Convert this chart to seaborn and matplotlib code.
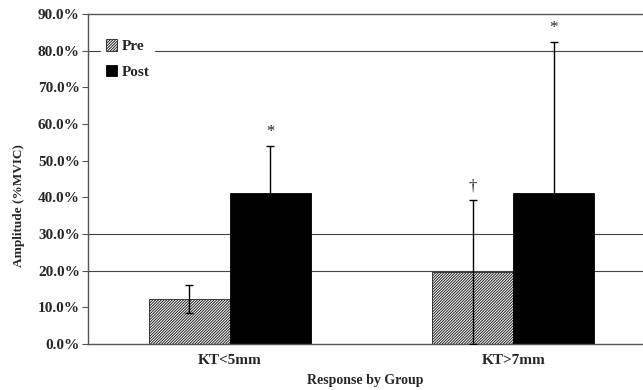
import matplotlib
matplotlib.use("Agg")
import matplotlib.pyplot as plt
import seaborn as sns
import pandas as pd
from matplotlib.ticker import FuncFormatter

# values (percent of MVIC)
groups = ["KT<5mm", "KT>7mm"]
phases = ["Pre", "Post"]
pre_mean = [12.3, 19.6]
post_mean = [41.2, 41.2]
pre_sd = [3.9, 19.6]
post_sd = [12.8, 41.2]
marks_pre = ["", "\u2020"]
marks_post = ["*", "*"]
y_ticks = [0, 10, 20, 30, 40, 50, 60, 70, 80, 90]
grid_at = [20, 30, 80]

df = pd.DataFrame({
    "group": groups * 2,
    "phase": ["Pre"] * 2 + ["Post"] * 2,
    "amp": pre_mean + post_mean,
})

sns.set_style("white")
plt.rcParams["font.family"] = ["Liberation Serif", "DejaVu Serif"]
plt.rcParams["font.weight"] = "bold"
plt.rcParams["hatch.linewidth"] = 0.7

fig = plt.figure(figsize=(6.43, 3.9), dpi=100)
ax = fig.add_axes([0.137, 0.118, 0.863, 0.846])

sns.barplot(data=df, x="group", y="amp", hue="phase", hue_order=phases,
            order=groups, errorbar=None, width=0.57, gap=0,
            palette=["white", "black"], edgecolor="black", linewidth=0.6,
            legend=False, ax=ax, zorder=2)

for p in ax.containers[0]:
    p.set_hatch("/" * 12)
    p.set_edgecolor("#222222")

# pre whiskers sit over the hatched bars, post whiskers behind the black bars
for cont, sd, marks, z in [(ax.containers[0], pre_sd, marks_pre, 3),
                           (ax.containers[1], post_sd, marks_post, 1.5)]:
    for p, s, m in zip(cont, sd, marks):
        cx = p.get_x() + p.get_width() / 2
        h = p.get_height()
        ax.errorbar(cx, h, yerr=s, fmt="none", ecolor="black",
                    elinewidth=1.0, capsize=3, capthick=1.0, zorder=z)
        if m:
            ax.annotate(m, (cx, h + s), xytext=(0, 4), textcoords="offset points",
                        ha="center", va="bottom", fontsize=12, fontweight="normal")

for g in grid_at:
    ax.axhline(g, color="#444444", linewidth=0.8, zorder=0)

ax.set_ylim(0, 90)
ax.set_xlim(-0.5, 1.458)
ax.set_yticks(y_ticks)
ax.yaxis.set_major_formatter(FuncFormatter(lambda v, _: f"{v:.1f}%"))
ax.tick_params(axis="y", which="major", left=True, length=4, width=0.8,
               color="#555555", labelsize=11, pad=2)
ax.tick_params(axis="x", bottom=False, labelsize=11, pad=4)

for lab in ax.get_xticklabels() + ax.get_yticklabels():
    lab.set_fontweight("bold")

ax.set_xlabel("Response by Group", fontsize=10, fontweight="bold", labelpad=5)
ax.set_ylabel("Amplitude (%MVIC)", fontsize=9.5, fontweight="bold")
ax.yaxis.set_label_coords(-0.113, 0.42)

ax.spines["right"].set_visible(False)
for s in ["left", "bottom", "top"]:
    ax.spines[s].set_color("#555555")
    ax.spines[s].set_linewidth(1.0)

handles = [ax.containers[0][0], ax.containers[1][0]]
leg = ax.legend(handles, phases, loc="upper left", bbox_to_anchor=(0.01, 0.96),
                frameon=True, fancybox=False, framealpha=1, edgecolor="white",
                facecolor="white", fontsize=11, handlelength=0.75, handleheight=0.75,
                handletextpad=0.3, labelspacing=0.75, borderpad=0.3)
for t in leg.get_texts():
    t.set_fontweight("bold")

fig.savefig("out.png", dpi=100)
